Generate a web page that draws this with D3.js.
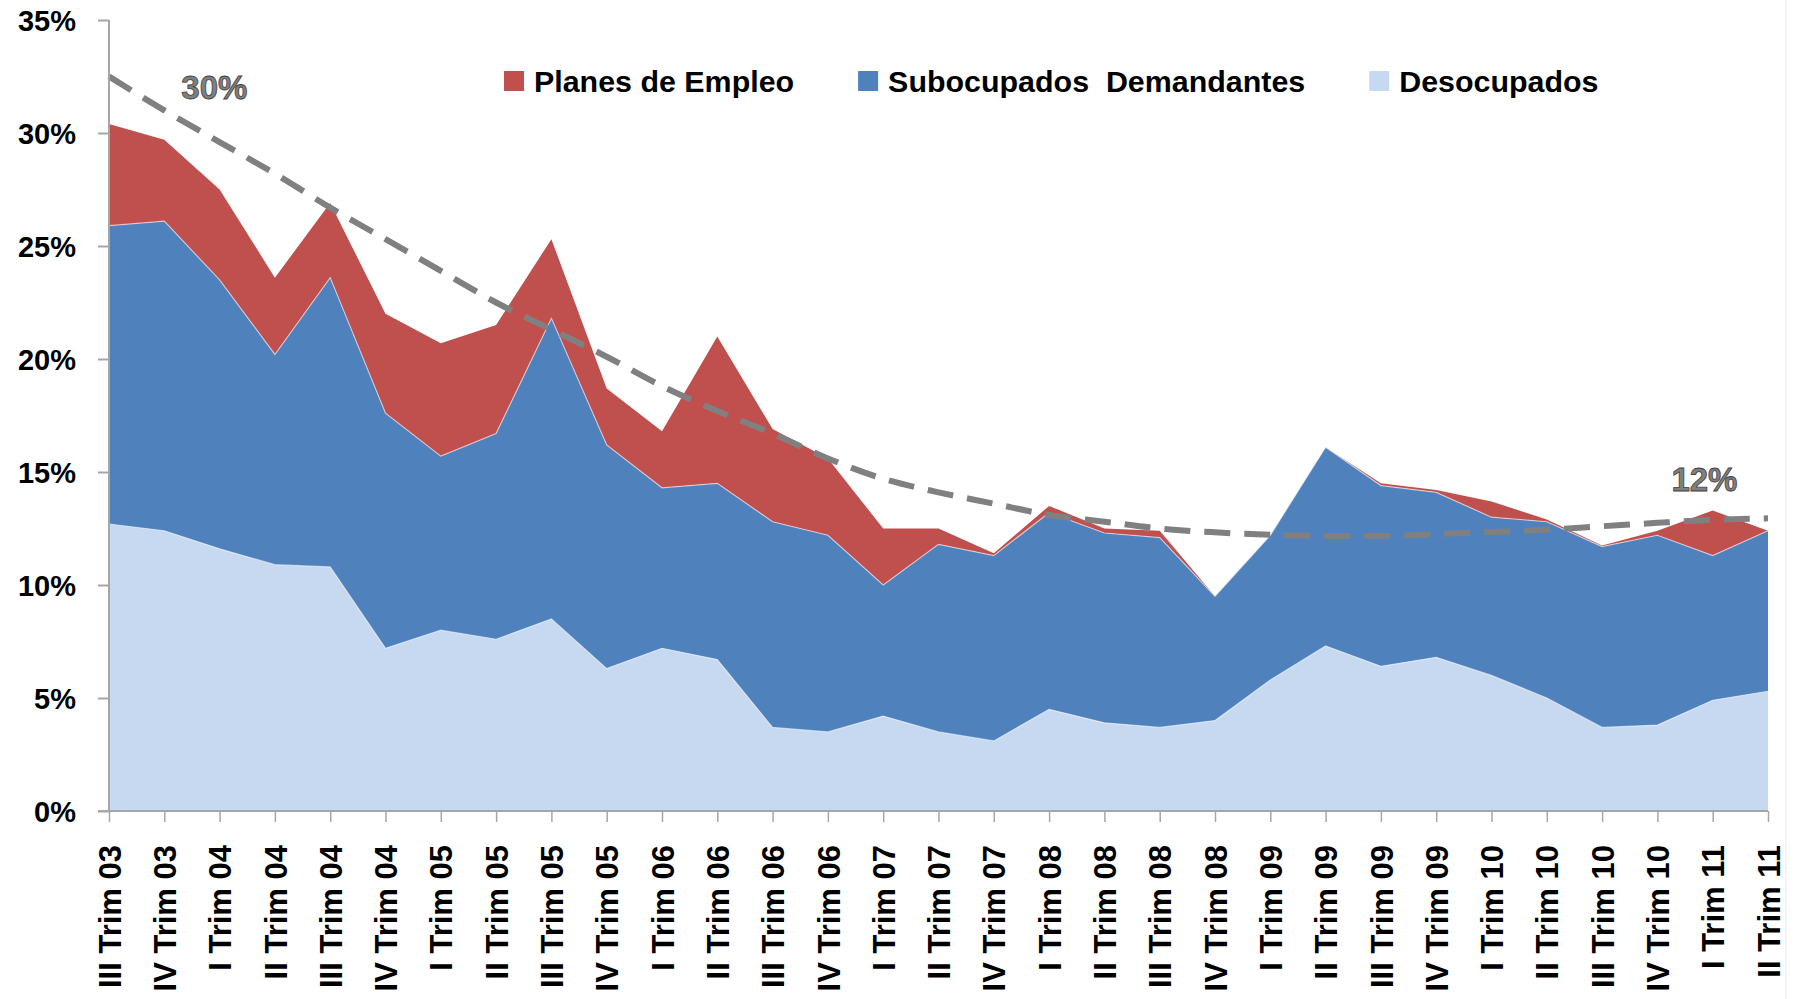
<!DOCTYPE html>
<html>
<head>
<meta charset="utf-8">
<script src="https://cdn.jsdelivr.net/npm/d3@7"></script>
<style>
  body { margin: 0; background: #fff; }
  text { font-family: "Liberation Sans", Arial, sans-serif; font-weight: bold; }
</style>
</head>
<body>
<div id="chart"></div>
<script>
// categories (III Trim 07 is missing in the source)
const trimestres = [
  "III Trim 03", "IV Trim 03",
  "I Trim 04", "II Trim 04", "III Trim 04", "IV Trim 04",
  "I Trim 05", "II Trim 05", "III Trim 05", "IV Trim 05",
  "I Trim 06", "II Trim 06", "III Trim 06", "IV Trim 06",
  "I Trim 07", "II Trim 07", "IV Trim 07",
  "I Trim 08", "II Trim 08", "III Trim 08", "IV Trim 08",
  "I Trim 09", "II Trim 09", "III Trim 09", "IV Trim 09",
  "I Trim 10", "II Trim 10", "III Trim 10", "IV Trim 10",
  "I Trim 11", "II Trim 11"
];

// series values, %
const desocupados = [12.7, 12.4, 11.6, 10.9, 10.8, 7.2, 8.0, 7.6, 8.5, 6.3, 7.2, 6.7, 3.7, 3.5, 4.2, 3.5,
  3.1, 4.5, 3.9, 3.7, 4.0, 5.8, 7.3, 6.4, 6.8, 6.0, 5.0, 3.7, 3.8, 4.9, 5.3];
const subocupados = [13.2, 13.7, 11.9, 9.3, 12.8, 10.4, 7.7, 9.1, 13.3, 9.9, 7.1, 7.8, 9.1, 8.7, 5.8, 8.3,
  8.2, 8.7, 8.4, 8.4, 5.5, 6.4, 8.8, 8.0, 7.3, 7.0, 7.8, 8.0, 8.4, 6.4, 7.1];
const planes = [4.5, 3.6, 4.0, 3.4, 3.3, 4.4, 5.0, 4.8, 3.5, 2.5, 2.5, 6.5, 4.1, 3.4, 2.5, 0.7,
  0.1, 0.3, 0.2, 0.3, 0.0, 0.0, 0.0, 0.1, 0.1, 0.7, 0.1, 0.05, 0.2, 2.0, 0.0];
// dashed trend line over the total
const tendencia = [32.5, 31.0, 29.6, 28.2, 26.7, 25.3, 23.9, 22.5, 21.3, 20.1, 18.8, 17.7, 16.7, 15.6,
  14.7, 14.1, 13.6, 13.1, 12.8, 12.5, 12.33, 12.22, 12.17, 12.17, 12.25, 12.35, 12.45, 12.6, 12.75, 12.88, 12.95];

const yTicks = [0, 5, 10, 15, 20, 25, 30, 35];

const seriesNames = ["Desocupados", "Subocupados  Demandantes", "Planes de Empleo"];
const legendOrder = ["Planes de Empleo", "Subocupados  Demandantes", "Desocupados"];
const colors = {
  "Desocupados": "#c6d9f1",
  "Subocupados  Demandantes": "#4f81bd",
  "Planes de Empleo": "#c0504d"
};

const W = 1797, H = 999;
const svg = d3.select("#chart").append("svg")
  .attr("width", W)
  .attr("height", H);

const x = d3.scalePoint()
  .domain(trimestres)
  .range([109, 1768]);

const y = d3.scaleLinear()
  .domain([0, 35])
  .range([811, 20]);

// table for the stack
const rows = trimestres.map((t, i) => ({
  t,
  "Desocupados": desocupados[i],
  "Subocupados  Demandantes": subocupados[i],
  "Planes de Empleo": planes[i]
}));

const stacked = d3.stack().keys(seriesNames)(rows);

const area = d3.area()
  .x(d => x(d.data.t))
  .y0(d => y(d[0]))
  .y1(d => y(d[1]));

const topLine = d3.line()
  .x(d => x(d.data.t))
  .y(d => y(d[1]));

svg.selectAll(".layer")
  .data(stacked)
  .join("path")
    .attr("class", "layer")
    .attr("fill", d => colors[d.key])
    .attr("d", area);

// thin light edge between layers
svg.selectAll(".edge")
  .data(stacked.slice(0, 2))
  .join("path")
    .attr("class", "edge")
    .attr("fill", "none")
    .attr("stroke", "#ffffff")
    .attr("stroke-opacity", 0.55)
    .attr("stroke-width", 1.2)
    .attr("d", topLine);

// trend line
const trendLine = d3.line()
  .x((d, i) => x(trimestres[i]))
  .y(d => y(d))
  .curve(d3.curveMonotoneX);

svg.append("path")
  .datum(tendencia)
  .attr("fill", "none")
  .attr("stroke", "#808080")
  .attr("stroke-width", 6)
  .attr("stroke-dasharray", "26,14")
  .attr("d", trendLine);

// axes
const axisColor = "#a6a6a6";

const yAxis = svg.append("g")
  .attr("transform", `translate(${x.range()[0]},0)`)
  .call(d3.axisLeft(y).tickValues(yTicks).tickSize(11).tickFormat(d => d + "%"));
yAxis.select(".domain").attr("stroke", axisColor).attr("stroke-width", 2).attr("d", `M0,${y(35)}V${y(0)}`);
yAxis.selectAll(".tick line").attr("stroke", axisColor).attr("stroke-width", 2);
yAxis.selectAll(".tick text")
  .attr("x", -33)
  .attr("dy", "0.35em")
  .attr("fill", "#000")
  .style("font-size", "29px");

const xAxis = svg.append("g")
  .attr("transform", `translate(0,${y(0)})`)
  .call(d3.axisBottom(x).tickSize(11));
xAxis.select(".domain").attr("stroke", axisColor).attr("stroke-width", 2)
  .attr("d", `M${x.range()[0] - 11},0H${x.range()[1]}`);
xAxis.selectAll(".tick line").attr("stroke", axisColor).attr("stroke-width", 1.5);
xAxis.selectAll(".tick text")
  .attr("transform", "translate(0,34) rotate(-90)")
  .attr("x", 0)
  .attr("y", 0)
  .attr("dy", "0.36em")
  .attr("text-anchor", "end")
  .attr("fill", "#000")
  .style("font-size", "31px");

// annotations
const notes = [
  { label: "30%", i: 1, v: 31.5, dx: 17 },
  { label: "12%", i: 28, v: 14.15, dx: 14 }
];
svg.selectAll(".note")
  .data(notes)
  .join("text")
    .attr("class", "note")
    .attr("x", d => x(trimestres[d.i]) + d.dx)
    .attr("y", d => y(d.v))
    .attr("fill", "#7f7f7f")
    .attr("stroke", "#3f3f3f")
    .attr("stroke-width", 0.8)
    .style("font-size", "33px")
    .text(d => d.label);

// legend
const legend = svg.append("g").attr("transform", "translate(504,71)");
let lx = 0;
legendOrder.forEach(name => {
  const g = legend.append("g").attr("transform", `translate(${lx},0)`);
  g.append("rect")
    .attr("width", 20)
    .attr("height", 20)
    .attr("fill", colors[name]);
  const t = g.append("text")
    .attr("x", 30)
    .attr("y", 21)
    .attr("fill", "#000")
    .style("font-size", "30.4px")
    .style("white-space", "pre")
    .text(name);
  lx += 30 + t.node().getComputedTextLength() + 64;
});

// faint chart border on the right
svg.append("line")
  .attr("x1", 1786).attr("x2", 1786)
  .attr("y1", 0).attr("y2", H)
  .attr("stroke", "#ececec")
  .attr("stroke-width", 1);
</script>
</body>
</html>
